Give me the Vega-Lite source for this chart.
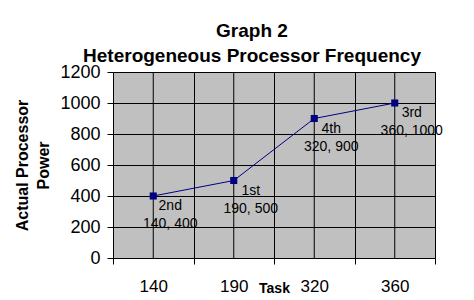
{
  "$schema": "https://vega.github.io/schema/vega-lite/v6.json",
  "autosize": "none",
  "width": 322,
  "height": 186,
  "padding": {"left": 113, "top": 72, "right": 39, "bottom": 42},
  "background": "white",
  "title": {
    "text": ["Graph 2", "Heterogeneous Processor Frequency"],
    "font": "Liberation Sans",
    "fontSize": 19,
    "fontWeight": "bold",
    "color": "black",
    "lineHeight": 25,
    "anchor": "middle",
    "dx": -22,
    "offset": -3
  },
  "data": {
    "values": [
      {"Task": "140", "Power": 400, "label": "2nd\n140, 400"},
      {"Task": "190", "Power": 500, "label": "1st\n190, 500"},
      {"Task": "320", "Power": 900, "label": "4th\n320, 900"},
      {"Task": "360", "Power": 1000, "label": "3rd\n360, 1000"}
    ]
  },
  "config": {
    "view": {"fill": "#C0C0C0", "stroke": "#808080", "strokeWidth": 1},
    "font": "Liberation Sans"
  },
  "encoding": {
    "x": {
      "field": "Task",
      "type": "ordinal",
      "sort": null,
      "scale": {"paddingInner": 0, "paddingOuter": 0},
      "axis": {
        "title": "Task",
        "titleFont": "Liberation Sans",
        "titleFontSize": 14,
        "titleFontWeight": "bold",
        "titleColor": "black",
        "titleY": 30,
        "titleBaseline": "middle",
        "labelAngle": 0,
        "labelFontSize": 17,
        "labelColor": "black",
        "labelPadding": 14,
        "tickBand": "extent",
        "tickSize": 6,
        "tickColor": "black",
        "grid": true,
        "gridColor": "black",
        "gridOpacity": 1,
        "domain": false
      }
    },
    "y": {
      "field": "Power",
      "type": "quantitative",
      "scale": {"domain": [0, 1200], "nice": false},
      "axis": {
        "title": ["Actual Processor", "Power"],
        "titleFont": "Liberation Sans",
        "titleFontSize": 16,
        "titleFontWeight": "bold",
        "titleColor": "black",
        "titleLineHeight": 21,
        "titlePadding": 8,
        "values": [0, 200, 400, 600, 800, 1000, 1200],
        "format": "d",
        "labelOverlap": false,
        "labelFontSize": 18,
        "labelColor": "black",
        "labelPadding": 7,
        "tickSize": 6,
        "tickColor": "black",
        "grid": true,
        "gridColor": "black",
        "gridOpacity": 1,
        "domain": false
      }
    }
  },
  "layer": [
    {
      "mark": {"type": "rule", "color": "black", "strokeWidth": 1},
      "encoding": {
        "y": {"datum": 1200, "type": "quantitative"},
        "y2": {"datum": 0}
      }
    },
    {
      "mark": {"type": "line", "color": "#000080", "strokeWidth": 1}
    },
    {
      "mark": {"type": "square", "color": "#000080", "size": 50, "opacity": 1, "filled": true}
    },
    {
      "mark": {"type": "text", "lineBreak": "\n", "align": "center", "baseline": "top", "dx": 17, "dy": 3, "fontSize": 14, "lineHeight": 18, "color": "black"},
      "encoding": {
        "text": {"field": "label"}
      }
    }
  ]
}
